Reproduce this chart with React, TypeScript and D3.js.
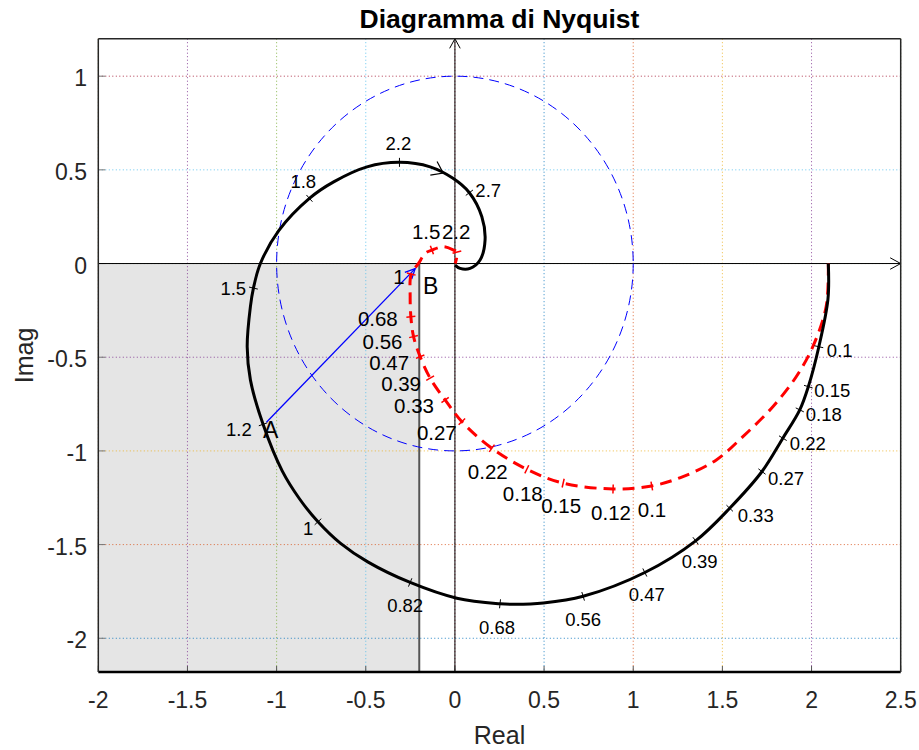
import React from 'react';
import * as d3 from 'd3';

// ---------- data ----------
const xTicks = [-2, -1.5, -1, -0.5, 0, 0.5, 1, 1.5, 2, 2.5];
const xTickLabels = ['-2', '-1.5', '-1', '-0.5', '0', '0.5', '1', '1.5', '2', '2.5'];
const yTicks = [-2, -1.5, -1, -0.5, 0, 0.5, 1];
const yTickLabels = ['-2', '-1.5', '-1', '-0.5', '0', '0.5', '1'];

// black curve
const blackRe = [2.094, 2.092, 2.041, 1.982, 1.934, 1.839, 1.722, 1.541, 1.350, 1.065, 0.719, 0.496, 0.337, 0.253, 0.011, -0.251, -0.489, -0.643, -0.768, -0.870, -0.968, -1.076, -1.147, -1.165, -1.147, -1.130, -1.091, -0.988, -0.816, -0.680, -0.493, -0.311, -0.139, -0.013, 0.081, 0.151, 0.169, 0.141, 0.085, 0.029, 0.001];
const blackIm = [0, -0.190, -0.444, -0.657, -0.781, -0.932, -1.110, -1.306, -1.480, -1.649, -1.776, -1.812, -1.819, -1.816, -1.786, -1.702, -1.592, -1.492, -1.378, -1.258, -1.108, -0.858, -0.621, -0.444, -0.230, -0.131, 0, 0.176, 0.348, 0.436, 0.516, 0.540, 0.516, 0.456, 0.378, 0.250, 0.125, 0.019, -0.026, -0.026, -0.008];
const blackTickW = ['0.1', '0.15', '0.18', '0.22', '0.27', '0.33', '0.39', '0.47', '0.56', '0.68', '0.82', '1', '1.2', '1.5', '1.8', '2.2', '2.7'];
const blackTickRe = [2.041, 1.982, 1.934, 1.839, 1.722, 1.541, 1.350, 1.065, 0.719, 0.253, -0.251, -0.768, -1.076, -1.130, -0.816, -0.311, 0.081];
const blackTickIm = [-0.444, -0.657, -0.781, -0.932, -1.110, -1.306, -1.480, -1.649, -1.776, -1.816, -1.702, -1.378, -0.858, -0.131, 0.348, 0.540, 0.378];
const blackArrowTip = [-0.066, 0.483];

// red dashed curve
const redRe = [2.094, 2.082, 2.007, 1.914, 1.783, 1.615, 1.466, 1.279, 1.104, 0.887, 0.607, 0.403, 0.207, 0.039, -0.055, -0.139, -0.195, -0.232, -0.247, -0.251, -0.245, -0.204, -0.167, -0.129, -0.064, -0.008, 0.011, 0.007, 0.001];
const redIm = [0, -0.230, -0.444, -0.604, -0.764, -0.924, -1.048, -1.137, -1.187, -1.203, -1.172, -1.098, -0.986, -0.844, -0.728, -0.612, -0.497, -0.390, -0.284, -0.177, -0.056, 0.001, 0.054, 0.072, 0.090, 0.072, 0.061, 0.019, 0];
const redTickW = ['0.1', '0.12', '0.15', '0.18', '0.22', '0.27', '0.33', '0.39', '0.47', '0.56', '0.68', '1', '1.5', '2.2'];
const redTickRe = [1.104, 0.887, 0.607, 0.403, 0.207, 0.039, -0.055, -0.139, -0.195, -0.232, -0.247, -0.245, -0.129, 0.011];
const redTickIm = [-1.187, -1.203, -1.172, -1.098, -0.986, -0.844, -0.728, -0.612, -0.497, -0.390, -0.284, -0.056, 0.072, 0.061];

// segment A -> B
const pointA = [-1.057, -0.847];
const pointB = [-0.223, -0.027];
// shaded region
const shadeRe = [-2, -0.2];
const shadeIm = [-2.18, 0];
const unitRadius = 1;

// ---------- layout (label offsets in px) ----------
const blackLabelOffsets = [[8, 10], [6, 10], [6, 11], [7, 12], [6, 13], [8, 14], [-14, 27], [-16, 28], [-18, 30], [-21, 30], [-23, 30], [-15, 13], [-37, 12], [-33, 7], [-19, -10], [-14, -12], [6, 4]];
const redLabelOffsets = [[-14, 31], [-22, 31], [-22, 30], [-24, 32], [-24, 31], [-45, 18], [-51, 13], [-49, 13], [-51, 13], [-51, 12], [-53, 9], [-18, 10], [-20, -11], [-15, -13]];

const xGridColors = ['#EDB120', '#7E2F8E', '#77AC30', '#4DBEEE', '#A2142F', '#0072BD', '#D95319', '#EDB120', '#7E2F8E', '#77AC30'];
const yGridColors = ['#0072BD', '#D95319', '#EDB120', '#7E2F8E', '#77AC30', '#4DBEEE', '#A2142F'];

const FONT = '"Liberation Sans", Arial, Helvetica, sans-serif';

export default function App() {
  const X = d3.scaleLinear().domain([-2, 2.5]).range([98.3, 900.7]);
  const Y = d3.scaleLinear().domain([-2.18, 1.2]).range([672, 38.7]);
  const left = X(-2), right = X(2.5), top = Y(1.2), bottom = Y(-2.18);

  const pathOf = (re: number[], im: number[]) =>
    d3.line<[number, number]>().x(d => X(d[0])).y(d => Y(d[1])).curve(d3.curveCatmullRom.alpha(0.5))(
      re.map((r, i) => [r, im[i]] as [number, number])
    ) || '';

  const tickSeg = (re: number, im: number, cRe: number[], cIm: number[], len: number) => {
    let best = 0, bd = Infinity;
    cRe.forEach((r, i) => {
      const d = (r - re) ** 2 + (cIm[i] - im) ** 2;
      if (d < bd) { bd = d; best = i; }
    });
    const i0 = Math.max(0, best - 1), i1 = Math.min(cRe.length - 1, best + 1);
    const dx = X(cRe[i1]) - X(cRe[i0]);
    const dy = Y(cIm[i1]) - Y(cIm[i0]);
    const n = Math.hypot(dx, dy) || 1;
    const px = -dy / n, py = dx / n;
    const cx = X(re), cy = Y(im);
    return { x1: cx - px * len / 2, y1: cy - py * len / 2, x2: cx + px * len / 2, y2: cy + py * len / 2 };
  };

  const arrowHead = (tx: number, ty: number, dirx: number, diry: number, len: number, ang: number) => {
    const a = Math.atan2(diry, dirx) + Math.PI;
    const p1 = [tx + len * Math.cos(a - ang), ty + len * Math.sin(a - ang)];
    const p2 = [tx + len * Math.cos(a + ang), ty + len * Math.sin(a + ang)];
    return `M${p1[0]},${p1[1]}L${tx},${ty}L${p2[0]},${p2[1]}`;
  };

  // black curve arrow direction from neighbouring read points
  const bi0 = 32, bi1 = 33;
  const bdx = X(blackRe[bi1]) - X(blackRe[bi0]);
  const bdy = Y(blackIm[bi1]) - Y(blackIm[bi0]);

  const ax = X(pointA[0]), ay = Y(pointA[1]), bx = X(pointB[0]), by = Y(pointB[1]);

  return (
    <svg width={919} height={750} style={{ position: 'absolute', left: 0, top: 0, background: '#fff' }} fontFamily={FONT}>
      <rect x={0} y={0} width={919} height={750} fill="#fff" />
      {/* shaded region */}
      <rect x={X(shadeRe[0])} y={Y(shadeIm[1])} width={X(shadeRe[1]) - X(shadeRe[0])} height={Y(shadeIm[0]) - Y(shadeIm[1])} fill="#E5E5E5" />
      {/* grid */}
      {xTicks.map((t, i) => (
        <line key={'gx' + i} x1={X(t)} x2={X(t)} y1={top} y2={bottom} stroke={xGridColors[i]} strokeWidth={1} strokeDasharray="1,2.5" opacity={0.85} />
      ))}
      {yTicks.map((t, i) => (
        <line key={'gy' + i} y1={Y(t)} y2={Y(t)} x1={left} x2={right} stroke={yGridColors[i]} strokeWidth={1} strokeDasharray="1,2.5" opacity={0.85} />
      ))}
      {/* shade right edge */}
      <line x1={X(shadeRe[1])} x2={X(shadeRe[1])} y1={Y(0)} y2={bottom} stroke="#555" strokeWidth={2} />
      {/* inner ticks */}
      {xTicks.map((t, i) => (
        <line key={'tx' + i} x1={X(t)} x2={X(t)} y1={bottom} y2={bottom - 6} stroke="#555" strokeWidth={1} />
      ))}
      {yTicks.map((t, i) => (
        <line key={'ty' + i} x1={left} x2={left + 7} y1={Y(t)} y2={Y(t)} stroke="#777" strokeWidth={1} />
      ))}
      {/* axes through origin */}
      <line x1={left} x2={right} y1={Y(0)} y2={Y(0)} stroke="#000" strokeWidth={1} />
      <line x1={X(0)} x2={X(0)} y1={bottom} y2={top} stroke="#000" strokeWidth={1} />
      <path d={arrowHead(right, Y(0), 1, 0, 12, 0.5)} fill="none" stroke="#000" strokeWidth={1} />
      <path d={arrowHead(X(0), top, 0, -1, 11, 0.5)} fill="none" stroke="#000" strokeWidth={1} />
      {/* unit circle */}
      <ellipse cx={X(0)} cy={Y(0)} rx={X(unitRadius) - X(0)} ry={Y(0) - Y(unitRadius)} fill="none" stroke="#0000FF" strokeWidth={1} strokeDasharray="10,6" />
      {/* A -> B */}
      <line x1={ax} y1={ay} x2={bx} y2={by} stroke="#0000FF" strokeWidth={1.3} />
      <path d={arrowHead(bx, by, bx - ax, by - ay, 11, 0.45)} fill="none" stroke="#0000FF" strokeWidth={1.3} />
      {/* red dashed curve */}
      <path d={pathOf(redRe, redIm)} fill="none" stroke="#FF0000" strokeWidth={3} strokeDasharray="12,7" />
      {redTickRe.map((r, i) => {
        const s = tickSeg(r, redTickIm[i], redRe, redIm, 9);
        return <line key={'rt' + i} {...s} stroke="#FF0000" strokeWidth={1.5} />;
      })}
      {/* black curve */}
      <path d={pathOf(blackRe, blackIm)} fill="none" stroke="#000" strokeWidth={3} strokeLinejoin="round" />
      {blackTickRe.map((r, i) => {
        const s = tickSeg(r, blackTickIm[i], blackRe, blackIm, 9);
        return <line key={'bt' + i} {...s} stroke="#000" strokeWidth={1} />;
      })}
      <path d={arrowHead(X(blackArrowTip[0]), Y(blackArrowTip[1]), bdx, bdy, 13, 0.62)} fill="none" stroke="#000" strokeWidth={1.2} />
      {/* frame */}
      <line x1={left} x2={right} y1={top} y2={top} stroke="#262626" strokeWidth={1.5} />
      <line x1={left} x2={right} y1={bottom} y2={bottom} stroke="#000" strokeWidth={2.5} />
      <line x1={left} x2={left} y1={top} y2={bottom} stroke="#262626" strokeWidth={1.5} />
      <line x1={right} x2={right} y1={top} y2={bottom} stroke="#262626" strokeWidth={1.5} />
      {/* labels on curves */}
      {blackTickW.map((w, i) => (
        <text key={'bl' + i} x={X(blackTickRe[i]) + blackLabelOffsets[i][0]} y={Y(blackTickIm[i]) + blackLabelOffsets[i][1]} fontSize={18.5} fill="#000">{w}</text>
      ))}
      {redTickW.map((w, i) => (
        <text key={'rl' + i} x={X(redTickRe[i]) + redLabelOffsets[i][0]} y={Y(redTickIm[i]) + redLabelOffsets[i][1]} fontSize={20.5} fill="#000">{w}</text>
      ))}
      <text x={263} y={438} fontSize={23} fill="#000">A</text>
      <text x={423} y={294} fontSize={23} fill="#000">B</text>
      {/* tick labels */}
      {xTicks.map((t, i) => (
        <text key={'xl' + i} x={X(t)} y={708} fontSize={23} fill="#262626" textAnchor="middle">{xTickLabels[i]}</text>
      ))}
      {yTicks.map((t, i) => (
        <text key={'yl' + i} x={87} y={Y(t) + 10} fontSize={23} fill="#262626" textAnchor="end">{yTickLabels[i]}</text>
      ))}
      {/* titles */}
      <text x={(left + right) / 2} y={28} fontSize={26.5} fontWeight="bold" textAnchor="middle" fill="#000">Diagramma di Nyquist</text>
      <text x={(left + right) / 2} y={744} fontSize={25} textAnchor="middle" fill="#262626">Real</text>
      <text transform={`translate(33,${(top + bottom) / 2}) rotate(-90)`} fontSize={25} textAnchor="middle" fill="#262626">Imag</text>
    </svg>
  );
}
